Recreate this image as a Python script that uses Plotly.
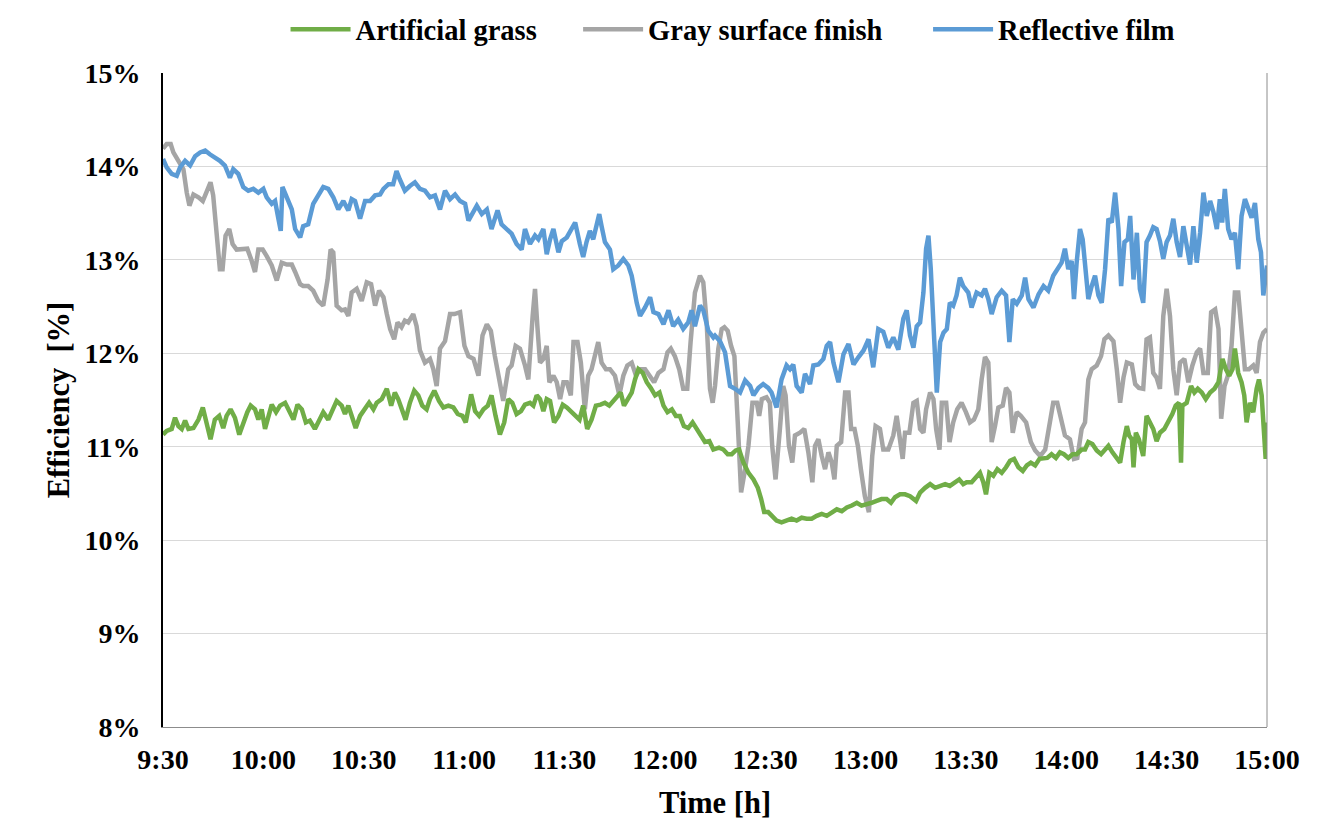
import plotly.graph_objects as go

# ---- data (minutes after 9:30, efficiency in %) ----
tick_labels = ["9:30", "10:00", "10:30", "11:00", "11:30", "12:00",
               "12:30", "13:00", "13:30", "14:00", "14:30", "15:00"]

refl_t = [0.0, 1.1, 2.6, 4.1, 5.1, 6.6, 8.1, 9.6, 11.1, 12.6, 14.0, 15.5, 17.0, 18.5, 20.0, 21.0, 22.5, 24.0, 25.5, 27.0,
          28.5, 30.0, 31.0, 32.5, 33.5, 34.5, 35.2, 35.7, 37.0, 38.5, 39.5, 41.0, 41.9, 43.4, 44.9, 46.4, 47.9, 49.4, 50.9, 52.4, 53.9,
          55.4, 56.4, 57.4, 58.9, 60.4, 61.9, 63.4, 64.9, 65.9, 67.4, 68.8, 69.8, 70.8, 72.3, 73.8, 75.3, 76.8, 78.3, 79.8,
          81.3, 82.8, 84.3, 85.8, 87.3, 88.8, 90.3, 91.3, 92.8, 93.8, 95.3, 96.8, 98.2, 100.0, 101.2, 102.7, 104.2, 105.7, 107.2, 108.2, 109.7,
          111.2, 112.2, 113.7, 114.7, 115.7, 116.7, 118.2, 119.2, 120.7, 122.2, 123.2, 124.6, 125.6, 126.6, 127.6, 128.6, 129.6,
          130.4, 131.1, 132.1, 133.6, 134.6, 136.1, 137.6, 139.1, 140.1, 141.6, 142.6, 144.1, 145.6, 146.6, 148.1, 149.6, 151.1,
          152.5, 154.0, 155.5, 157.0, 158.0, 159.0, 160.5, 161.5, 163.0, 164.5,
          165.0, 166.5, 168.0, 169.5, 171.0, 172.5, 174.0, 175.5, 176.5, 178.0, 179.4, 180.9, 181.9, 183.4, 184.9, 186.4, 187.4,
          188.4, 189.4, 190.9, 191.9, 193.4, 194.4, 195.9, 197.4, 198.4, 199.4, 200.4, 201.9, 203.4, 204.9, 206.4, 207.9, 209.4,
          210.9, 212.3, 213.8, 215.3, 216.8, 218.3, 219.8,
          221.3, 222.3, 223.3, 224.3, 225.3, 226.3, 227.3, 228.1, 228.8, 229.5, 230.3, 231.3, 232.3, 233.3, 234.3, 235.2, 236.2,
          237.2, 238.2, 239.2, 240.7, 241.7, 243.2, 244.7, 245.7, 246.7, 247.7, 249.2, 250.7, 252.0, 253.0, 254.0, 255.2, 256.7,
          257.7, 258.7, 260.2, 261.7, 263.2, 264.6, 266.1, 267.6, 268.6, 269.6, 270.6, 271.6, 272.3, 273.1, 274.1, 274.9,
          275.6, 276.6, 277.6, 278.6, 279.6, 280.6, 281.6, 282.6, 283.6, 284.6, 285.6, 286.4, 287.4, 288.4, 289.1, 290.1, 291.1,
          292.0, 293.0, 294.0, 295.0, 296.0, 297.0, 298.0, 299.0, 300.0, 301.0, 302.0, 303.0, 304.0, 305.0, 306.0, 307.0, 308.0,
          309.0, 310.0, 311.0, 312.0, 313.0, 314.0, 315.0, 315.9, 316.6, 317.4, 318.4, 319.4, 320.4, 321.4, 322.4, 323.4, 324.4,
          325.4, 326.4, 327.4, 328.2, 328.9, 330.0]
refl_v = [14.08, 13.99, 13.92, 13.90, 13.99, 14.06, 14.01, 14.11, 14.15, 14.17, 14.13, 14.10, 14.06, 14.01, 13.88, 13.97, 13.92, 13.78, 13.74, 13.76,
          13.72, 13.76, 13.67, 13.60, 13.63, 13.44, 13.31, 13.78, 13.67, 13.54, 13.33, 13.24, 13.36, 13.38, 13.60, 13.70, 13.78, 13.76, 13.67, 13.54, 13.63,
          13.53, 13.65, 13.63, 13.44, 13.63, 13.63, 13.69, 13.70, 13.76, 13.81, 13.81, 13.95, 13.86, 13.74, 13.79, 13.83, 13.76, 13.74, 13.67,
          13.69, 13.54, 13.74, 13.65, 13.70, 13.63, 13.60, 13.42, 13.51, 13.58, 13.49, 13.54, 13.33, 13.53, 13.38, 13.33, 13.28, 13.17, 13.11, 13.33, 13.17,
          13.26, 13.22, 13.33, 13.06, 13.22, 13.33, 13.08, 13.20, 13.24, 13.35, 13.40, 13.17, 13.03, 13.19, 13.31, 13.22, 13.36,
          13.49, 13.36, 13.19, 13.11, 12.90, 12.94, 13.01, 12.94, 12.83, 12.54, 12.40, 12.49, 12.60, 12.44, 12.42, 12.31, 12.46,
          12.29, 12.36, 12.26, 12.33, 12.46, 12.29, 12.51, 12.46, 12.24, 12.17,
          12.19, 12.13, 12.01, 11.65, 11.62, 11.58, 11.71, 11.65, 11.55, 11.63, 11.67, 11.63, 11.58, 11.42, 11.72, 11.87, 11.83,
          11.88, 11.65, 11.58, 11.78, 11.67, 11.87, 11.88, 11.94, 12.08, 12.12, 11.90, 11.69, 11.99, 12.10, 11.88, 11.96, 12.03,
          12.15, 11.85, 12.26, 12.23, 12.06, 12.17, 12.04,
          12.37, 12.46, 12.19, 12.06, 12.29, 12.33, 12.65, 13.12, 13.26, 12.90, 12.26, 11.58, 12.12, 12.22, 12.26, 12.54, 12.51,
          12.62, 12.81, 12.72, 12.65, 12.49, 12.65, 12.62, 12.69, 12.58, 12.42, 12.60, 12.67, 12.62, 12.12, 12.58, 12.53, 12.62,
          12.81, 12.58, 12.49, 12.63, 12.72, 12.67, 12.83, 12.92, 12.97, 13.12, 12.90, 12.99, 12.58, 12.97, 13.33, 13.22,
          12.94, 12.58, 12.72, 12.83, 12.62, 12.54, 12.90, 13.44, 13.40, 13.72, 13.33, 12.72, 13.19, 13.22, 13.47, 12.79, 13.29,
          12.69, 12.54, 13.19, 13.26, 13.35, 13.33, 13.20, 13.01, 13.19, 13.26, 13.44, 13.19, 13.03, 13.36, 13.13, 12.95, 13.36,
          12.97, 13.29, 13.72, 13.47, 13.63, 13.51, 13.33, 13.65, 13.40, 13.76, 13.33, 13.22, 13.29, 12.90, 13.47, 13.65, 13.54,
          13.45, 13.61, 13.22, 13.08, 12.62, 12.94]

gray_t = [0.0, 1.1, 2.3, 3.1, 4.6, 6.1, 7.1, 7.9, 9.1, 10.6, 11.9, 13.1, 14.2, 15.0, 16.0, 17.0, 17.8, 18.7, 19.8, 20.8,
          22.0, 23.5, 25.2, 26.5, 27.5, 28.5, 29.8, 31.0, 32.5, 34.0, 35.5, 37.0, 38.5, 39.5, 41.0, 41.9, 43.4, 44.9, 46.4,
          47.9, 49.2, 50.1, 50.9, 51.9, 53.4,
          54.4, 55.4, 56.4, 57.9, 59.4, 60.9, 62.2, 63.4, 64.6, 65.9, 66.9, 67.9, 69.1, 70.1, 71.3, 72.3, 73.3, 74.8, 75.8,
          76.8, 78.3, 79.8, 80.8, 81.8, 82.8, 84.3, 85.8, 87.1, 88.8, 90.1, 91.3, 92.8, 94.3, 95.5, 96.8, 98.0, 99.2, 100.4,
          101.7, 103.2, 104.2, 105.4, 106.7, 108.2, 109.2,
          110.5, 111.2, 111.9, 112.7, 113.7, 114.7, 115.5, 116.7, 117.7, 118.7, 119.7, 120.7, 121.9, 122.7, 123.9, 124.9, 126.1,
          127.1, 128.1, 129.1, 130.1, 131.1, 132.4, 133.6, 135.1, 136.4, 137.6, 138.8, 140.1, 141.4, 142.6, 144.1, 145.6, 146.8,
          148.1, 149.6, 150.8, 151.8, 153.0, 154.3, 155.5, 156.7, 157.7, 159.0, 160.5, 161.5, 162.5, 163.5, 164.3,
          165.0, 166.0, 167.0, 167.8, 168.8, 169.8, 170.8, 171.8, 172.8, 174.0, 175.0, 176.2, 177.5, 178.2, 179.0, 180.4, 181.4,
          182.1, 183.1, 184.4, 185.4, 186.1, 187.1, 188.1, 188.9, 190.4, 191.7, 192.9, 194.1, 194.9, 195.9, 196.9, 197.9, 198.9,
          199.9, 200.7, 201.4, 202.7, 203.9, 204.9, 205.7, 206.7, 207.7, 208.6, 209.8, 211.0, 212.0, 213.0, 214.3, 215.3, 216.8,
          218.3, 219.3,
          221.1, 221.8, 223.1, 224.3, 225.3, 226.3, 227.3, 228.1, 229.3, 230.3, 231.1, 232.1, 232.8, 234.1, 235.1, 236.2, 237.4,
          238.7, 240.0, 241.2, 242.4, 243.7, 244.7, 245.7, 246.7, 247.7, 248.7, 249.7, 251.0, 252.0, 253.0, 254.0, 255.2, 256.4,
          258.0, 259.4, 260.7, 262.2, 263.7, 264.9, 266.1, 267.3, 268.3, 269.6, 271.1, 272.3, 273.3, 274.6,
          275.6, 276.6, 277.6, 279.1, 280.4, 281.4, 282.6, 284.1, 285.1, 286.1, 287.1, 288.1, 289.6, 290.6, 291.7, 293.0, 294.0,
          295.0, 296.0, 297.0, 298.0, 299.0, 300.0, 301.0, 302.0, 303.0, 304.0, 305.3, 306.5, 307.7, 309.0, 310.0, 311.0, 312.3,
          313.3, 314.5, 315.5, 316.3, 317.3, 318.3, 319.4, 320.4, 321.4, 322.4, 323.4, 324.6, 325.9, 326.9, 327.9, 328.9, 330.0]
gray_v = [14.19, 14.24, 14.24, 14.15, 14.06, 13.97, 13.72, 13.58, 13.70, 13.67, 13.63, 13.74, 13.83, 13.69, 13.22, 12.90, 12.90, 13.26, 13.33, 13.17,
          13.11, 13.11, 13.12, 12.99, 12.87, 13.11, 13.11, 13.04, 12.94, 12.78, 12.97, 12.95, 12.95, 12.87, 12.74, 12.72, 12.72, 12.67, 12.56,
          12.51, 12.79, 13.11, 13.08, 12.51, 12.46,
          12.47, 12.40, 12.65, 12.69, 12.56, 12.76, 12.74, 12.51, 12.67, 12.60, 12.42, 12.26, 12.15, 12.33, 12.28, 12.35, 12.33, 12.42, 12.29,
          12.03, 11.90, 11.94, 11.83, 11.65, 12.05, 12.13, 12.42, 12.42, 12.44, 12.08, 11.97, 11.94, 11.76, 12.19, 12.31, 12.24, 11.97, 11.72,
          11.49, 11.83, 11.87, 12.08, 12.05, 11.87, 11.72,
          12.40, 12.69, 12.29, 11.90, 11.94, 12.08, 11.69, 11.76, 11.69, 11.51, 11.69, 11.69, 11.55, 12.12, 12.12, 11.90, 11.40,
          11.76, 11.83, 11.97, 12.12, 11.90, 11.83, 11.83, 11.76, 11.55, 11.76, 11.87, 11.90, 11.76, 11.83, 11.83, 11.76, 11.69,
          11.79, 11.83, 12.01, 12.05, 11.97, 11.83, 11.62, 11.62, 12.12, 12.65, 12.83, 12.76, 12.33, 11.62, 11.47,
          11.65, 12.05, 12.26, 12.28, 12.24, 12.08, 11.97, 11.26, 10.51, 10.76, 11.01, 11.47, 11.47, 11.33, 11.51, 11.53, 11.47,
          11.01, 10.65, 11.19, 11.65, 11.55, 11.01, 10.83, 11.12, 11.15, 11.19, 10.94, 10.62, 11.01, 11.08, 10.90, 10.76, 10.94,
          10.83, 10.65, 11.01, 11.05, 11.58, 11.58, 11.19, 11.19, 11.01, 10.76, 10.47, 10.30, 10.90, 11.22, 11.19, 10.97, 10.97,
          11.12, 11.33,
          10.87, 11.15, 11.15, 11.47, 11.49, 11.19, 11.15, 11.40, 11.58, 11.51, 11.19, 10.97, 11.47, 11.47, 11.05, 11.26, 11.40,
          11.47, 11.37, 11.26, 11.29, 11.40, 11.72, 11.96, 11.90, 11.05, 11.22, 11.42, 11.44, 11.63, 11.58, 11.15, 11.37, 11.33,
          11.26, 11.05, 10.96, 10.90, 10.97, 11.26, 11.47, 11.47, 11.33, 11.12, 11.08, 10.87, 10.88, 11.19,
          11.26, 11.72, 11.83, 11.87, 11.97, 12.15, 12.19, 12.13, 11.83, 11.47, 11.74, 11.90, 11.88, 11.67, 11.63, 11.62, 12.15,
          12.17, 11.79, 11.74, 11.62, 12.40, 12.69, 12.40, 11.83, 11.55, 11.90, 11.94, 11.69, 11.87, 12.01, 12.05, 11.79, 11.79,
          12.44, 12.47, 12.26, 11.30, 11.65, 11.76, 12.08, 12.65, 12.65, 12.19, 11.83, 11.83, 11.87, 11.79, 12.12, 12.22, 12.26]

grass_t = [0.0, 1.1, 2.6, 3.6, 4.6, 5.6, 6.6, 7.6, 9.1, 10.6, 11.9, 13.1, 14.2, 15.5, 16.8, 18.0, 19.0, 20.2, 21.5, 22.8,
           24.0, 25.2, 26.2, 27.5, 28.5, 29.5, 30.5, 31.5, 32.5, 33.8, 35.0, 36.5, 37.8, 39.0, 40.2, 41.5, 42.7, 43.9, 45.4,
           46.7, 47.9, 49.4, 50.7, 51.9, 53.4,
           54.4, 55.4, 56.4, 57.6, 58.9, 60.4, 61.6, 62.9, 63.9, 65.4, 66.9, 68.2, 69.3, 70.3, 71.3, 72.5, 73.8, 75.1, 76.3,
           77.5, 78.8, 79.8, 81.1, 82.5, 83.8, 85.3, 86.8, 88.1, 89.5, 90.5, 92.1, 93.3, 94.5, 95.8, 97.1, 98.2, 99.4, 100.7,
           102.0, 103.2, 104.4, 105.7, 107.0, 108.2, 109.7,
           110.7, 111.7, 112.7, 113.7, 114.7, 115.7, 116.9, 118.2, 119.5, 120.7, 122.2, 123.5, 124.5, 125.6, 126.8, 128.1, 129.4,
           130.8, 132.1, 133.4, 134.6, 135.8, 136.8, 137.8, 139.1, 140.1, 141.1, 142.1, 143.4, 144.6, 145.8, 147.1, 148.4, 149.6,
           150.8, 152.1, 153.3, 154.5, 155.7, 157.0, 158.3, 159.5, 160.7, 162.0, 163.3, 164.5,
           166.2, 167.5, 168.8, 170.0, 171.2, 172.2, 173.5, 175.0, 176.5, 177.8, 178.8, 179.7, 180.9, 182.1, 183.4, 184.9, 186.4,
           187.9, 189.4, 190.9, 192.4, 193.9, 195.4, 196.9, 198.4, 199.9, 201.4, 202.9, 204.4, 205.9, 207.4, 208.8, 210.3, 211.8,
           213.3, 214.8, 216.3, 217.6, 218.8, 220.3,
           221.8, 223.3, 225.1, 226.3, 227.8, 229.3, 230.8, 232.3, 233.8, 235.2, 236.7, 238.0, 239.2, 240.2, 241.7, 243.0, 244.2,
           245.2, 246.0, 247.0, 248.2, 249.4, 250.7, 252.0, 253.2, 254.4, 255.7, 257.0, 258.2, 259.4, 260.7, 262.0, 263.2, 264.3,
           265.6, 266.9, 268.1, 269.3, 270.6, 271.9, 273.1, 274.6,
           275.6, 276.6, 277.8, 279.1, 280.4, 281.6, 282.6, 283.8, 285.1, 286.1, 287.1, 288.1, 288.8, 289.6, 290.1, 290.8, 291.7,
           293.0, 294.0, 295.0, 296.0, 297.0, 298.0, 299.3, 300.5, 301.7, 302.7, 303.7, 304.3, 304.7, 306.0, 307.3, 308.3, 309.3,
           310.5, 311.7, 313.0, 314.3, 315.5, 316.7, 317.7, 318.7, 319.7, 320.4, 321.4, 322.4, 323.2, 323.9, 324.9, 325.9, 326.9,
           327.6, 328.4, 329.1, 329.6, 330.0]
grass_v = [11.13, 11.17, 11.19, 11.31, 11.22, 11.19, 11.28, 11.19, 11.20, 11.29, 11.42, 11.26, 11.08, 11.29, 11.33, 11.20, 11.33, 11.40, 11.31, 11.13,
           11.26, 11.37, 11.44, 11.40, 11.29, 11.40, 11.19, 11.33, 11.45, 11.37, 11.44, 11.47, 11.37, 11.29, 11.45, 11.40, 11.26, 11.28, 11.19,
           11.29, 11.37, 11.29, 11.40, 11.49, 11.44,
           11.35, 11.44, 11.33, 11.20, 11.33, 11.40, 11.47, 11.40, 11.47, 11.51, 11.62, 11.44, 11.58, 11.51, 11.40, 11.29, 11.47, 11.60, 11.55,
           11.44, 11.40, 11.51, 11.60, 11.49, 11.42, 11.44, 11.42, 11.35, 11.33, 11.26, 11.56, 11.38, 11.33, 11.40, 11.44, 11.55, 11.33, 11.13,
           11.26, 11.51, 11.47, 11.35, 11.38, 11.45, 11.47,
           11.44, 11.55, 11.51, 11.38, 11.51, 11.49, 11.26, 11.33, 11.45, 11.42, 11.37, 11.33, 11.29, 11.44, 11.19, 11.29, 11.44,
           11.45, 11.47, 11.44, 11.49, 11.55, 11.58, 11.44, 11.51, 11.58, 11.72, 11.83, 11.79, 11.69, 11.63, 11.55, 11.58, 11.44,
           11.37, 11.40, 11.33, 11.33, 11.22, 11.20, 11.26, 11.19, 11.12, 11.05, 11.06, 10.97,
           10.99, 10.97, 10.92, 10.92, 10.96, 10.97, 10.83, 10.72, 10.65, 10.56, 10.44, 10.30, 10.30, 10.26, 10.21, 10.19, 10.21,
           10.23, 10.21, 10.24, 10.23, 10.23, 10.26, 10.28, 10.26, 10.30, 10.33, 10.31, 10.35, 10.37, 10.40, 10.37, 10.38, 10.40,
           10.42, 10.44, 10.44, 10.40, 10.46, 10.49,
           10.49, 10.47, 10.42, 10.51, 10.56, 10.60, 10.56, 10.58, 10.60, 10.58, 10.62, 10.65, 10.60, 10.62, 10.62, 10.67, 10.72,
           10.62, 10.49, 10.72, 10.69, 10.76, 10.72, 10.78, 10.85, 10.87, 10.78, 10.74, 10.80, 10.83, 10.80, 10.87, 10.87, 10.88,
           10.92, 10.88, 10.94, 10.92, 10.88, 10.92, 10.92, 10.97,
           10.97, 11.05, 11.03, 10.96, 10.92, 10.97, 11.01, 10.94, 10.88, 10.83, 11.05, 11.22, 11.12, 11.08, 10.78, 11.15, 11.08,
           10.90, 11.33, 11.26, 11.19, 11.06, 11.15, 11.19, 11.26, 11.35, 11.44, 11.47, 10.83, 11.44, 11.47, 11.65, 11.58, 11.62,
           11.58, 11.51, 11.58, 11.62, 11.69, 11.94, 11.83, 11.76, 11.83, 12.05, 11.79, 11.69, 11.55, 11.26, 11.47, 11.37, 11.62,
           11.72, 11.55, 11.01, 10.87, 11.26]

# ---- helpers ----
def to_min(label):
    h, m = label.split(":")
    return int(h) * 60 + int(m)

START = to_min(tick_labels[0])
tick_vals = [to_min(s) for s in tick_labels]

FONT = "Liberation Serif, Times New Roman, serif"
LEG_FONT = dict(family=FONT, size=28.5, weight="bold")
TICK_FONT = dict(family=FONT, size=28, weight="bold")
TITLE_FONT = dict(family=FONT, size=30.5, weight="bold")

fig = go.Figure()
# (name, t, v, colour, legend id) -- drawing order: gray, grass, reflective
series = [
    ("Gray surface finish", gray_t, gray_v, "#A5A5A5", "legend2"),
    ("Artificial grass", grass_t, grass_v, "#70AD47", "legend"),
    ("Reflective film", refl_t, refl_v, "#5B9BD5", "legend3"),
]
for name, t, v, color, leg in series:
    fig.add_trace(go.Scatter(
        x=[START + x for x in t], y=v, mode="lines", name=name,
        line=dict(color=color, width=4.5), legend=leg,
    ))

leg_common = dict(orientation="h", yref="container", y=0.964, yanchor="middle",
                  xanchor="left", font=LEG_FONT, itemwidth=60, bgcolor="rgba(0,0,0,0)")

fig.update_layout(
    width=1331, height=828,
    margin=dict(l=163, r=64, t=73, b=101, autoexpand=False),
    paper_bgcolor="white", plot_bgcolor="white",
    font=dict(family=FONT, size=28, color="black"),
    showlegend=True,
    legend=dict(x=0.111, **leg_common),
    legend2=dict(x=0.376, **leg_common),
    legend3=dict(x=0.693, **leg_common),
    xaxis=dict(range=[tick_vals[0], tick_vals[-1]], tickvals=tick_vals, ticktext=tick_labels,
               showgrid=False, zeroline=False, showline=True, linecolor="#8c8c8c", linewidth=1,
               ticks="", ticklabelstandoff=7,
               tickfont=TICK_FONT,
               title=dict(text="Time [h]", font=TITLE_FONT, standoff=18)),
    yaxis=dict(range=[8, 15], dtick=1, tick0=8, ticksuffix="%",
               showgrid=True, gridcolor="#d9d9d9", gridwidth=1, zeroline=False,
               showline=True, linecolor="black", linewidth=2,
               ticks="", ticklabelstandoff=15,
               tickfont=TICK_FONT,
               title=dict(text="Efficiency  [%]", font=TITLE_FONT, standoff=6)),
    shapes=[dict(type="line", xref="paper", yref="paper", x0=1, x1=1, y0=0, y1=1,
                 line=dict(color="#8c8c8c", width=1), layer="above")],
)

fig.write_html("out.html")
